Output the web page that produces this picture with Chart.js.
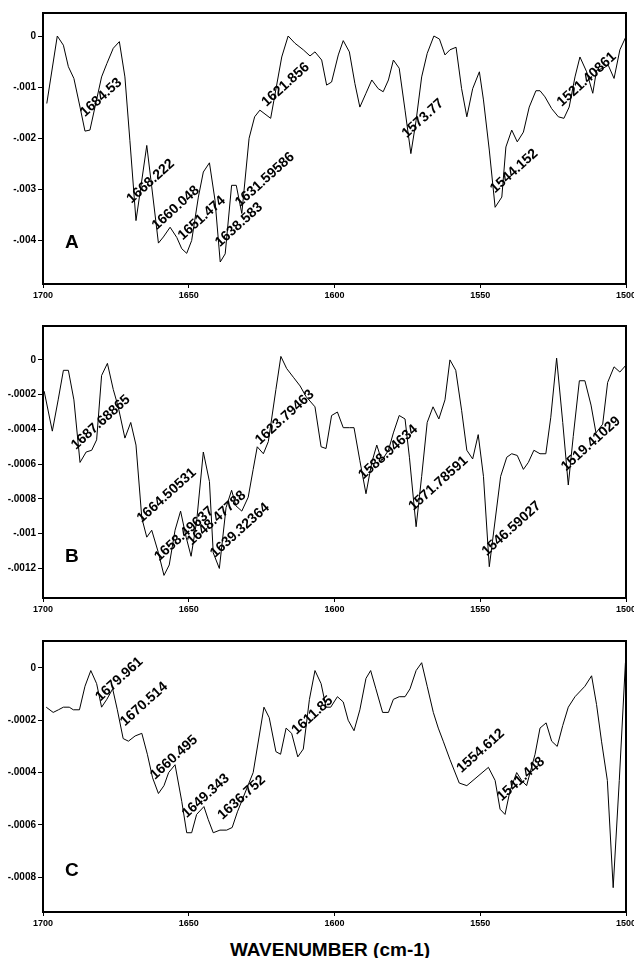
<!DOCTYPE html>
<html>
<head>
<meta charset="utf-8">
<script src="https://cdn.jsdelivr.net/npm/chart.js@4.4.0/dist/chart.umd.min.js"></script>
<style>
  body { margin: 0; background: #fff; width: 634px; height: 958px; position: relative; overflow: hidden;
         font-family: "Liberation Sans", Arial, sans-serif; }
  .panel { position: absolute; left: 0; width: 634px; }
  #title { position: absolute; left: 0; width: 660px; top: 939px; text-align: center;
           font-weight: bold; font-size: 19px; color: #000; }
</style>
</head>
<body>
<div class="panel" style="top:0px;height:310px"><canvas id="chartA"></canvas></div>
<div class="panel" style="top:313px;height:311px"><canvas id="chartB"></canvas></div>
<div class="panel" style="top:628px;height:310px"><canvas id="chartC"></canvas></div>
<div id="title">WAVENUMBER (cm-1)</div>
<script>
// x axis, shared by all three panels
const xTicks = [1700, 1650, 1600, 1550, 1500];

// panel A
const waveA = [1698.7, 1695.1, 1693.0, 1691.3, 1689.4, 1687.3, 1685.6, 1683.9, 1679.9, 1678.1,
  1675.9, 1673.8, 1671.9, 1670.2, 1668.1, 1666.5, 1664.4, 1662.7, 1660.4, 1658.7,
  1656.4, 1654.1, 1652.4, 1650.7, 1649.0, 1646.7, 1645.0, 1642.9, 1641.0, 1639.2,
  1637.5, 1635.3, 1633.7, 1631.8, 1629.3, 1627.4, 1625.6, 1621.9, 1618.1, 1615.9,
  1613.6, 1610.7, 1608.4, 1606.7, 1604.4, 1602.7, 1601.0, 1598.7, 1597.0, 1594.9,
  1593.0, 1591.3, 1589.2, 1587.2, 1585.0, 1583.3, 1581.5, 1579.8, 1577.8, 1575.8,
  1573.8, 1572.0, 1570.1, 1568.2, 1565.9, 1564.0, 1562.1, 1560.4, 1558.3, 1556.4,
  1554.6, 1552.6, 1550.3, 1548.9, 1546.9, 1544.9, 1542.6, 1541.2, 1539.2, 1537.3,
  1535.2, 1533.2, 1530.9, 1529.5, 1527.8, 1525.5, 1523.2, 1521.3, 1519.5, 1517.5,
  1515.8, 1513.5, 1511.4, 1510.1, 1507.8, 1506.1, 1504.1, 1502.1, 1500.0];
const absA = [-0.00132, 0, -0.00018, -0.00060, -0.00083, -0.00139, -0.00186, -0.00184, -0.00080, -0.00054,
  -0.00024, -0.00011, -0.00080, -0.00204, -0.00361, -0.00298, -0.00214, -0.00295, -0.00405, -0.00393,
  -0.00374, -0.00394, -0.00416, -0.00425, -0.00400, -0.00315, -0.00266, -0.00248, -0.00321, -0.00442,
  -0.00426, -0.00292, -0.00292, -0.00347, -0.00200, -0.00158, -0.00145, -0.00161, -0.00041, 0,
  -0.00014, -0.00027, -0.00039, -0.00031, -0.00047, -0.00096, -0.00090, -0.00037, -0.00009, -0.00031,
  -0.00093, -0.00139, -0.00112, -0.00086, -0.00103, -0.00109, -0.00086, -0.00047, -0.00063, -0.00145,
  -0.00230, -0.00165, -0.00080, -0.00034, 0, -0.00006, -0.00037, -0.00027, -0.00022, -0.00103,
  -0.00158, -0.00103, -0.00070, -0.00125, -0.00223, -0.00335, -0.00315, -0.00217, -0.00184, -0.00207,
  -0.00188, -0.00139, -0.00107, -0.00107, -0.00119, -0.00142, -0.00158, -0.00161, -0.00139, -0.00080,
  -0.00041, -0.00070, -0.00112, -0.00067, -0.00063, -0.00057, -0.00083, -0.00027, -0.00001];
const yTicksA = [0, -0.001, -0.002, -0.003, -0.004];
const yLabelsA = ["0", "-.001", "-.002", "-.003", "-.004"];
const peakTextA = ["1684.53", "1668.222", "1660.048", "1651.474", "1638.583", "1631.59586",
  "1621.856", "1573.77", "1544.152", "1521.40861"];
const peakXA = [1685.6, 1669.6, 1661.0, 1652.1, 1639.3, 1632.4, 1623.3, 1575.2, 1544.9, 1522.0];
const peakYA = [-0.00159, -0.00328, -0.00380, -0.00400, -0.00413, -0.00335, -0.00139, -0.00200, -0.00308, -0.00139];

// panel B
const waveB = [1699.6, 1696.8, 1694.8, 1693.0, 1691.3, 1689.4, 1687.3, 1685.2, 1683.3, 1681.6,
  1679.9, 1677.9, 1675.9, 1674.2, 1671.9, 1669.9, 1668.1, 1666.1, 1664.4, 1662.7,
  1660.4, 1658.5, 1656.7, 1654.7, 1652.8, 1650.9, 1649.2, 1647.3, 1645.0, 1642.9,
  1641.6, 1639.5, 1637.2, 1635.3, 1633.8, 1631.8, 1629.6, 1627.9, 1626.5, 1624.4,
  1622.7, 1620.1, 1618.4, 1616.4, 1614.1, 1611.8, 1609.8, 1606.7, 1604.6, 1602.9,
  1601.0, 1599.0, 1597.0, 1594.9, 1593.3, 1591.3, 1589.2, 1587.2, 1585.5, 1583.8,
  1581.5, 1579.8, 1577.8, 1575.8, 1574.3, 1572.0, 1570.1, 1568.2, 1566.2, 1564.2,
  1562.1, 1560.4, 1558.4, 1556.4, 1554.6, 1552.6, 1550.7, 1548.9, 1546.9, 1543.0,
  1540.9, 1539.2, 1537.3, 1535.2, 1533.5, 1531.6, 1529.5, 1527.5, 1525.8, 1523.8,
  1521.7, 1519.8, 1518.1, 1516.0, 1514.1, 1512.0, 1510.3, 1508.0, 1506.3, 1504.1,
  1502.1, 1500.0];
const absB = [-0.00018, -0.00041, -0.00023, -0.00006, -0.00006, -0.00023, -0.00059, -0.00053, -0.00052, -0.00046,
  -0.00009, -0.00002, -0.00017, -0.00027, -0.00045, -0.00036, -0.00049, -0.00091, -0.00102, -0.00098,
  -0.00111, -0.00124, -0.00118, -0.00098, -0.00087, -0.00102, -0.00113, -0.00093, -0.00053, -0.00070,
  -0.00111, -0.00120, -0.00085, -0.00075, -0.00084, -0.00087, -0.00079, -0.00063, -0.00050, -0.00054,
  -0.00047, -0.00017, 0.00002, -0.00005, -0.00010, -0.00015, -0.00021, -0.00027, -0.00050, -0.00051,
  -0.00032, -0.00030, -0.00039, -0.00039, -0.00039, -0.00058, -0.00077, -0.00059, -0.00049, -0.00058,
  -0.00052, -0.00042, -0.00032, -0.00034, -0.00056, -0.00096, -0.00067, -0.00036, -0.00027, -0.00034,
  -0.00023, 0, -0.00006, -0.00029, -0.00052, -0.00057, -0.00043, -0.00067, -0.00119, -0.00067,
  -0.00056, -0.00054, -0.00055, -0.00063, -0.00059, -0.00052, -0.00054, -0.00054, -0.00033, 0.00001,
  -0.00036, -0.00072, -0.00044, -0.00012, -0.00012, -0.00026, -0.00042, -0.00037, -0.00013, -0.00004,
  -0.00007, -0.00003];
const yTicksB = [0, -0.0002, -0.0004, -0.0006, -0.0008, -0.001, -0.0012];
const yLabelsB = ["0", "-.0002", "-.0004", "-.0006", "-.0008", "-.001", "-.0012"];
const peakTextB = ["1687.68865", "1664.50531", "1658.49637", "1648.47788", "1639.32364",
  "1623.79463", "1588.94634", "1571.78591", "1546.59027", "1519.41029"];
const peakXB = [1688.7, 1666.1, 1660.1, 1649.0, 1641.0, 1625.6, 1590.1, 1572.9, 1547.8, 1520.6];
const peakYB = [-0.000518, -0.000939, -0.00116, -0.00107, -0.00114, -0.000489, -0.00069, -0.00087, -0.00113, -0.000642];

// panel C
const waveC = [1698.9, 1696.5, 1694.7, 1693.0, 1691.0, 1689.6, 1687.5, 1685.6, 1683.6, 1681.6,
  1679.9, 1678.1, 1676.1, 1674.5, 1672.5, 1670.7, 1668.4, 1666.1, 1664.2, 1662.4,
  1660.4, 1658.5, 1656.9, 1654.7, 1652.4, 1650.7, 1649.0, 1647.3, 1644.8, 1643.3,
  1641.6, 1639.3, 1637.0, 1635.1, 1633.3, 1627.9, 1624.2, 1622.4, 1620.1, 1618.5,
  1616.6, 1614.7, 1612.6, 1610.7, 1608.6, 1606.7, 1604.6, 1602.9, 1601.3, 1599.0,
  1597.0, 1595.3, 1593.3, 1591.3, 1589.2, 1587.6, 1585.8, 1583.5, 1581.5, 1579.8,
  1577.8, 1575.8, 1574.1, 1572.0, 1570.1, 1568.2, 1566.1, 1564.4, 1562.7, 1560.4,
  1557.2, 1554.6, 1547.2, 1544.9, 1543.2, 1541.5, 1539.8, 1537.5, 1535.8, 1534.1,
  1531.2, 1529.5, 1527.4, 1525.5, 1523.6, 1521.7, 1519.8, 1517.5, 1514.1, 1511.8,
  1510.1, 1508.4, 1506.4, 1504.4, 1502.3, 1500.2];
const absC = [-0.00015, -0.00017, -0.00016, -0.00015, -0.00015, -0.00016, -0.00016, -0.00007, -0.00001, -0.00006,
  -0.00015, -0.00012, -0.00008, -0.00016, -0.00027, -0.00028, -0.00026, -0.00025, -0.00033, -0.00042,
  -0.00048, -0.00045, -0.00040, -0.00037, -0.00051, -0.00063, -0.00063, -0.00056, -0.00053, -0.00058,
  -0.00063, -0.00062, -0.00062, -0.00061, -0.00055, -0.00040, -0.00015, -0.00019, -0.00032, -0.00033,
  -0.00023, -0.00025, -0.00034, -0.00031, -0.00012, -0.00001, -0.00006, -0.00015, -0.00015, -0.00011,
  -0.00013, -0.00020, -0.00024, -0.00016, -0.00004, -0.00001, -0.00008, -0.00017, -0.00017, -0.00012,
  -0.00011, -0.00011, -0.00008, -0.00001, 0.00002, -0.00007, -0.00017, -0.00023, -0.00028, -0.00035,
  -0.00044, -0.00045, -0.00038, -0.00043, -0.00054, -0.00056, -0.00047, -0.00040, -0.00043, -0.00045,
  -0.00033, -0.00023, -0.00021, -0.00028, -0.00030, -0.00022, -0.00015, -0.00011, -0.00007, -0.00003,
  -0.00014, -0.00028, -0.00043, -0.00084, -0.00043, 0.00002];
const yTicksC = [0, -0.0002, -0.0004, -0.0006, -0.0008];
const yLabelsC = ["0", "-.0002", "-.0004", "-.0006", "-.0008"];
const peakTextC = ["1679.961", "1670.514", "1660.495", "1649.343", "1636.752", "1611.85", "1554.612", "1541.448"];
const peakXC = [1680.4, 1671.9, 1661.6, 1650.7, 1638.4, 1613.0, 1556.4, 1542.6];
const peakYC = [-0.000129, -0.000224, -0.000428, -0.000575, -0.000581, -0.000256, -0.000403, -0.000511];

const FONT = '"Liberation Sans", Arial, sans-serif';

// box around the plot, peak labels and the panel letter
const panelDecor = {
  id: "panelDecor",
  afterDatasetsDraw(chart, args, opts) {
    const ctx = chart.ctx;
    const a = chart.chartArea;
    const xs = chart.scales.x, ys = chart.scales.y;
    ctx.save();
    ctx.fillStyle = "#000";
    ctx.font = "bold 14px " + FONT;
    ctx.textAlign = "left";
    ctx.textBaseline = "alphabetic";
    opts.text.forEach((t, i) => {
      ctx.save();
      ctx.translate(xs.getPixelForValue(opts.xs[i]), ys.getPixelForValue(opts.ys[i]));
      ctx.rotate(-42 * Math.PI / 180);
      ctx.fillText(t, 0, 0);
      ctx.restore();
    });
    ctx.font = "bold 19px " + FONT;
    ctx.fillText(opts.letter, a.left + 22, a.bottom - 36);
    ctx.strokeStyle = "#000";
    ctx.lineWidth = 2;
    ctx.strokeRect(a.left, a.top, a.right - a.left, a.bottom - a.top);
    ctx.restore();
  }
};

function makePanel(id, wave, absorb, yMin, yMax, yTicks, yLabels, text, px, py, letter) {
  const points = wave.map((w, i) => ({ x: w, y: absorb[i] }));
  return new Chart(document.getElementById(id), {
    type: "line",
    data: {
      datasets: [{
        data: points,
        borderColor: "#000",
        borderWidth: 1,
        pointRadius: 0,
        tension: 0,
        fill: false,
      }],
    },
    options: {
      responsive: true,
      maintainAspectRatio: false,
      animation: false,
      devicePixelRatio: 1,
      layout: { padding: { top: 13, right: 8, left: 0, bottom: 0 } },
      plugins: {
        legend: { display: false },
        tooltip: { enabled: false },
        panelDecor: { text: text, xs: px, ys: py, letter: letter },
      },
      scales: {
        x: {
          type: "linear",
          reverse: true,
          min: 1500,
          max: 1700,
          afterBuildTicks: (s) => { s.ticks = xTicks.map((v) => ({ value: v })); },
          afterFit: (s) => { s.height = 26; s.paddingLeft = 0; s.paddingRight = 0; },
          ticks: {
            autoSkip: false,
            maxRotation: 0,
            padding: 2,
            color: "#000",
            font: { family: FONT, size: 9, weight: "bold" },
            callback: (v) => String(v),
          },
          grid: { drawOnChartArea: false, tickLength: 4, color: "#000" },
          border: { display: false },
        },
        y: {
          type: "linear",
          min: yMin,
          max: yMax,
          afterBuildTicks: (s) => { s.ticks = yTicks.map((v) => ({ value: v })); },
          afterFit: (s) => { s.width = 43; s.paddingTop = 0; s.paddingBottom = 0; },
          ticks: {
            autoSkip: false,
            padding: 2,
            color: "#000",
            font: { family: FONT, size: 10, weight: "bold" },
            callback: (v, i) => yLabels[i],
          },
          grid: { drawOnChartArea: false, tickLength: 5, color: "#000" },
          border: { display: false },
        },
      },
    },
    plugins: [panelDecor],
  });
}

makePanel("chartA", waveA, absA, -0.00485, 0.00045, yTicksA, yLabelsA, peakTextA, peakXA, peakYA, "A");
makePanel("chartB", waveB, absB, -0.00137, 0.000195, yTicksB, yLabelsB, peakTextB, peakXB, peakYB, "B");
makePanel("chartC", waveC, absC, -0.000933, 0.000103, yTicksC, yLabelsC, peakTextC, peakXC, peakYC, "C");
</script>
</body>
</html>
